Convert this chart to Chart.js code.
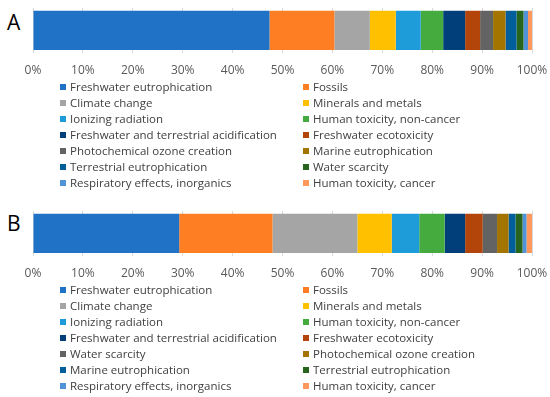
<!DOCTYPE html>
<html>
<head>
<meta charset="utf-8">
<script src="https://cdn.jsdelivr.net/npm/chart.js@4"></script>
<style>
  body { margin: 0; background: #fff; }
  #page { position: relative; width: 550px; height: 397px; overflow: hidden; font-family: "Open Sans", sans-serif; }
  .box { position: absolute; left: 0; width: 550px; height: 92px; }
  .tag { position: absolute; left: 7px; font-size: 21px; color: #000; line-height: 21px; }
  .legend { position: absolute; left: 0; width: 550px; }
  .item { position: absolute; height: 16px; line-height: 16px; font-size: 11.5px; color: #404040; white-space: nowrap; }
  .sw { position: absolute; left: 0; top: 5px; width: 6px; height: 6px; }
  .txt { position: absolute; left: 10px; top: 0; }
</style>
</head>
<body>
<div id="page">
  <div class="tag" style="top:12px">A</div>
  <div class="box" style="top:0"><canvas id="chartA"></canvas></div>
  <div class="legend" id="legendA" style="top:79px"></div>
  <div class="tag" style="top:213px">B</div>
  <div class="box" style="top:203px"><canvas id="chartB"></canvas></div>
  <div class="legend" id="legendB" style="top:282px"></div>
</div>
<script>
// Impact categories, in stacking order
const categoriesA = ['Freshwater eutrophication', 'Fossils', 'Climate change', 'Minerals and metals',
    'Ionizing radiation', 'Human toxicity, non-cancer', 'Freshwater and terrestrial acidification',
    'Freshwater ecotoxicity', 'Photochemical ozone creation', 'Marine eutrophication',
    'Terrestrial eutrophication', 'Water scarcity', 'Respiratory effects, inorganics', 'Human toxicity, cancer'];
const valuesA = [47.4, 13.0, 7.1, 5.2, 5.0, 4.5, 4.4, 3.0, 2.6, 2.5, 2.2, 1.4, 0.9, 0.8];

const categoriesB = ['Freshwater eutrophication', 'Fossils', 'Climate change', 'Minerals and metals',
    'Ionizing radiation', 'Human toxicity, non-cancer', 'Freshwater and terrestrial acidification',
    'Freshwater ecotoxicity', 'Water scarcity', 'Photochemical ozone creation',
    'Marine eutrophication', 'Terrestrial eutrophication', 'Respiratory effects, inorganics', 'Human toxicity, cancer'];
const valuesB = [29.3, 18.7, 17.0, 6.9, 5.5, 5.1, 4.1, 3.5, 2.9, 2.3, 1.4, 1.4, 0.8, 1.1];

const xTicks = [0, 10, 20, 30, 40, 50, 60, 70, 80, 90, 100];

// Colours go by position, not by category
const colors = ['#1F72C6', '#FD7E23', '#A5A5A5', '#FFC000', '#1E9BD9', '#45AB3E', '#003F7A',
    '#B3450A', '#636363', '#A37400', '#005E9A', '#27651F', '#5093D8', '#FF985A'];

function makeChart(id, cats, vals) {
    const ctx = document.getElementById(id).getContext('2d');
    new Chart(ctx, {
        type: 'bar',
        data: {
            labels: [''],
            datasets: cats.map((c, i) => ({
                label: c,
                data: [vals[i]],
                backgroundColor: colors[i],
                borderWidth: 0,
                barPercentage: 1,
                categoryPercentage: 0.88
            }))
        },
        options: {
            indexAxis: 'y',
            responsive: true,
            maintainAspectRatio: false,
            animation: false,
            layout: { padding: { left: 33, right: 18, top: 8, bottom: 3 } },
            scales: {
                x: {
                    stacked: true,
                    min: 0,
                    max: 100,
                    afterBuildTicks: axis => { axis.ticks = xTicks.map(v => ({ value: v })); },
                    // let the layout padding alone decide the right edge
                    afterFit: axis => { axis.paddingRight = 0; axis.paddingLeft = 0; },
                    grid: { color: '#D9D9D9', drawTicks: false },
                    border: { display: false },
                    ticks: {
                        padding: 11,
                        color: '#595959',
                        font: { family: '"Open Sans", sans-serif', size: 12 },
                        callback: v => v + '%'
                    }
                },
                y: { stacked: true, display: false }
            },
            plugins: {
                legend: { display: false },
                tooltip: { enabled: false }
            }
        }
    });
}

function makeLegend(id, cats) {
    const el = document.getElementById(id);
    cats.forEach((c, i) => {
        const item = document.createElement('div');
        item.className = 'item';
        item.style.left = (i % 2 === 0 ? 60 : 303) + 'px';
        item.style.top = (Math.floor(i / 2) * 16) + 'px';
        item.innerHTML = '<span class="sw" style="background:' + colors[i] + '"></span><span class="txt"></span>';
        item.querySelector('.txt').textContent = c;
        el.appendChild(item);
    });
}

makeChart('chartA', categoriesA, valuesA);
makeChart('chartB', categoriesB, valuesB);
makeLegend('legendA', categoriesA);
makeLegend('legendB', categoriesB);
</script>
</body>
</html>
